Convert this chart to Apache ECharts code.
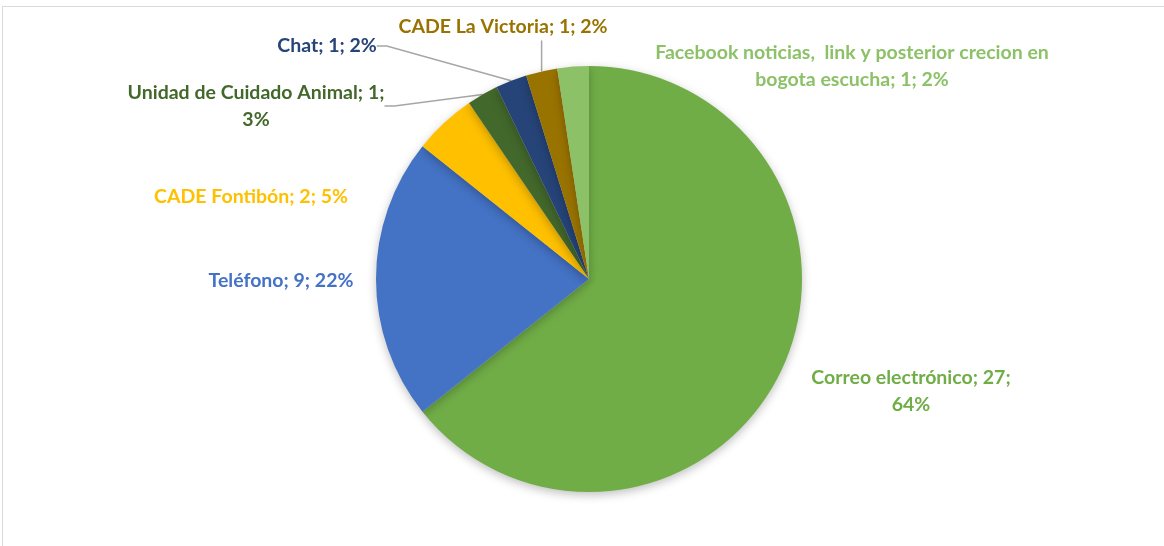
<!DOCTYPE html>
<html>
<head>
<meta charset="utf-8">
<script src="https://cdn.jsdelivr.net/npm/echarts@6/dist/echarts.min.js"></script>
<style>
  html, body { margin: 0; padding: 0; background: #fff; overflow: hidden; }
  #frame { position: absolute; left: 2px; top: 6px; width: 1200px; height: 600px; border: 1px solid #d9d9d9; }
  #main { position: absolute; left: 0; top: 0; width: 1164px; height: 546px; }
</style>
</head>
<body>
<div id="frame"></div>
<div id="main"></div>
<script>
// datos del grafico
const categorias = ['Correo electrónico', 'Teléfono', 'CADE Fontibón', 'Unidad de Cuidado Animal', 'Chat', 'CADE La Victoria', 'Facebook noticias,  link y posterior crecion en bogota escucha'];
const valores = [27, 9, 2, 1, 1, 1, 1];
const porcentajes = ['64%', '22%', '5%', '3%', '2%', '2%', '2%'];
const colores = ['#70AD47', '#4472C4', '#FFC000', '#43682B', '#264478', '#997300', '#8CC168'];

// texto de las etiquetas (con saltos de linea como en el original)
const textos = [
  'Correo electrónico; 27;\n64%',
  'Teléfono; 9; 22%',
  'CADE Fontibón; 2; 5%',
  'Unidad de Cuidado Animal; 1;\n3%',
  'Chat; 1; 2%',
  'CADE La Victoria; 1; 2%',
  'Facebook noticias,  link y posterior crecion en\nbogota escucha; 1; 2%'
];
// posicion (centro) de cada etiqueta
const posEtiquetas = [[911, 391], [281, 281], [251, 197], [256, 106], [327, 46], [503, 27], [852, 66]];
const conLinea = [false, false, false, true, true, true, false];

const chart = echarts.init(document.getElementById('main'), null, { renderer: 'canvas' });

const option = {
  animation: false,
  series: [{
    type: 'pie',
    center: [589, 279],
    radius: 213,
    startAngle: 90,
    clockwise: true,
    data: categorias.map((c, i) => ({
      name: c,
      value: valores[i],
      itemStyle: { color: colores[i] },
      label: { color: colores[i] },
      labelLine: { show: conLinea[i] }
    })),
    itemStyle: {
      borderWidth: 0,
      shadowBlur: 10,
      shadowOffsetY: 3,
      shadowColor: 'rgba(0,0,0,0.25)'
    },
    label: {
      show: true,
      position: 'outside',
      formatter: p => textos[p.dataIndex],
      fontFamily: 'Lato',
      fontWeight: 'bold',
      fontSize: 19.5,
      lineHeight: 27,
      align: 'center'
    },
    labelLine: {
      lineStyle: { color: '#a6a6a6', width: 1.5 },
      length: 10,
      length2: 10
    },
    labelLayout: params => {
      const i = params.dataIndex;
      const p = posEtiquetas[i];
      const res = { x: p[0], y: p[1], align: 'center', verticalAlign: 'middle' };
      // CADE La Victoria: linea vertical hasta la etiqueta
      if (i === 5 && params.labelLinePoints) {
        const a = params.labelLinePoints[0];
        const bottom = p[1] + params.labelRect.height / 2;
        res.labelLinePoints = [a, [a[0], bottom], [a[0], bottom]];
      }
      return res;
    }
  }]
};

chart.setOption(option);
</script>
</body>
</html>
